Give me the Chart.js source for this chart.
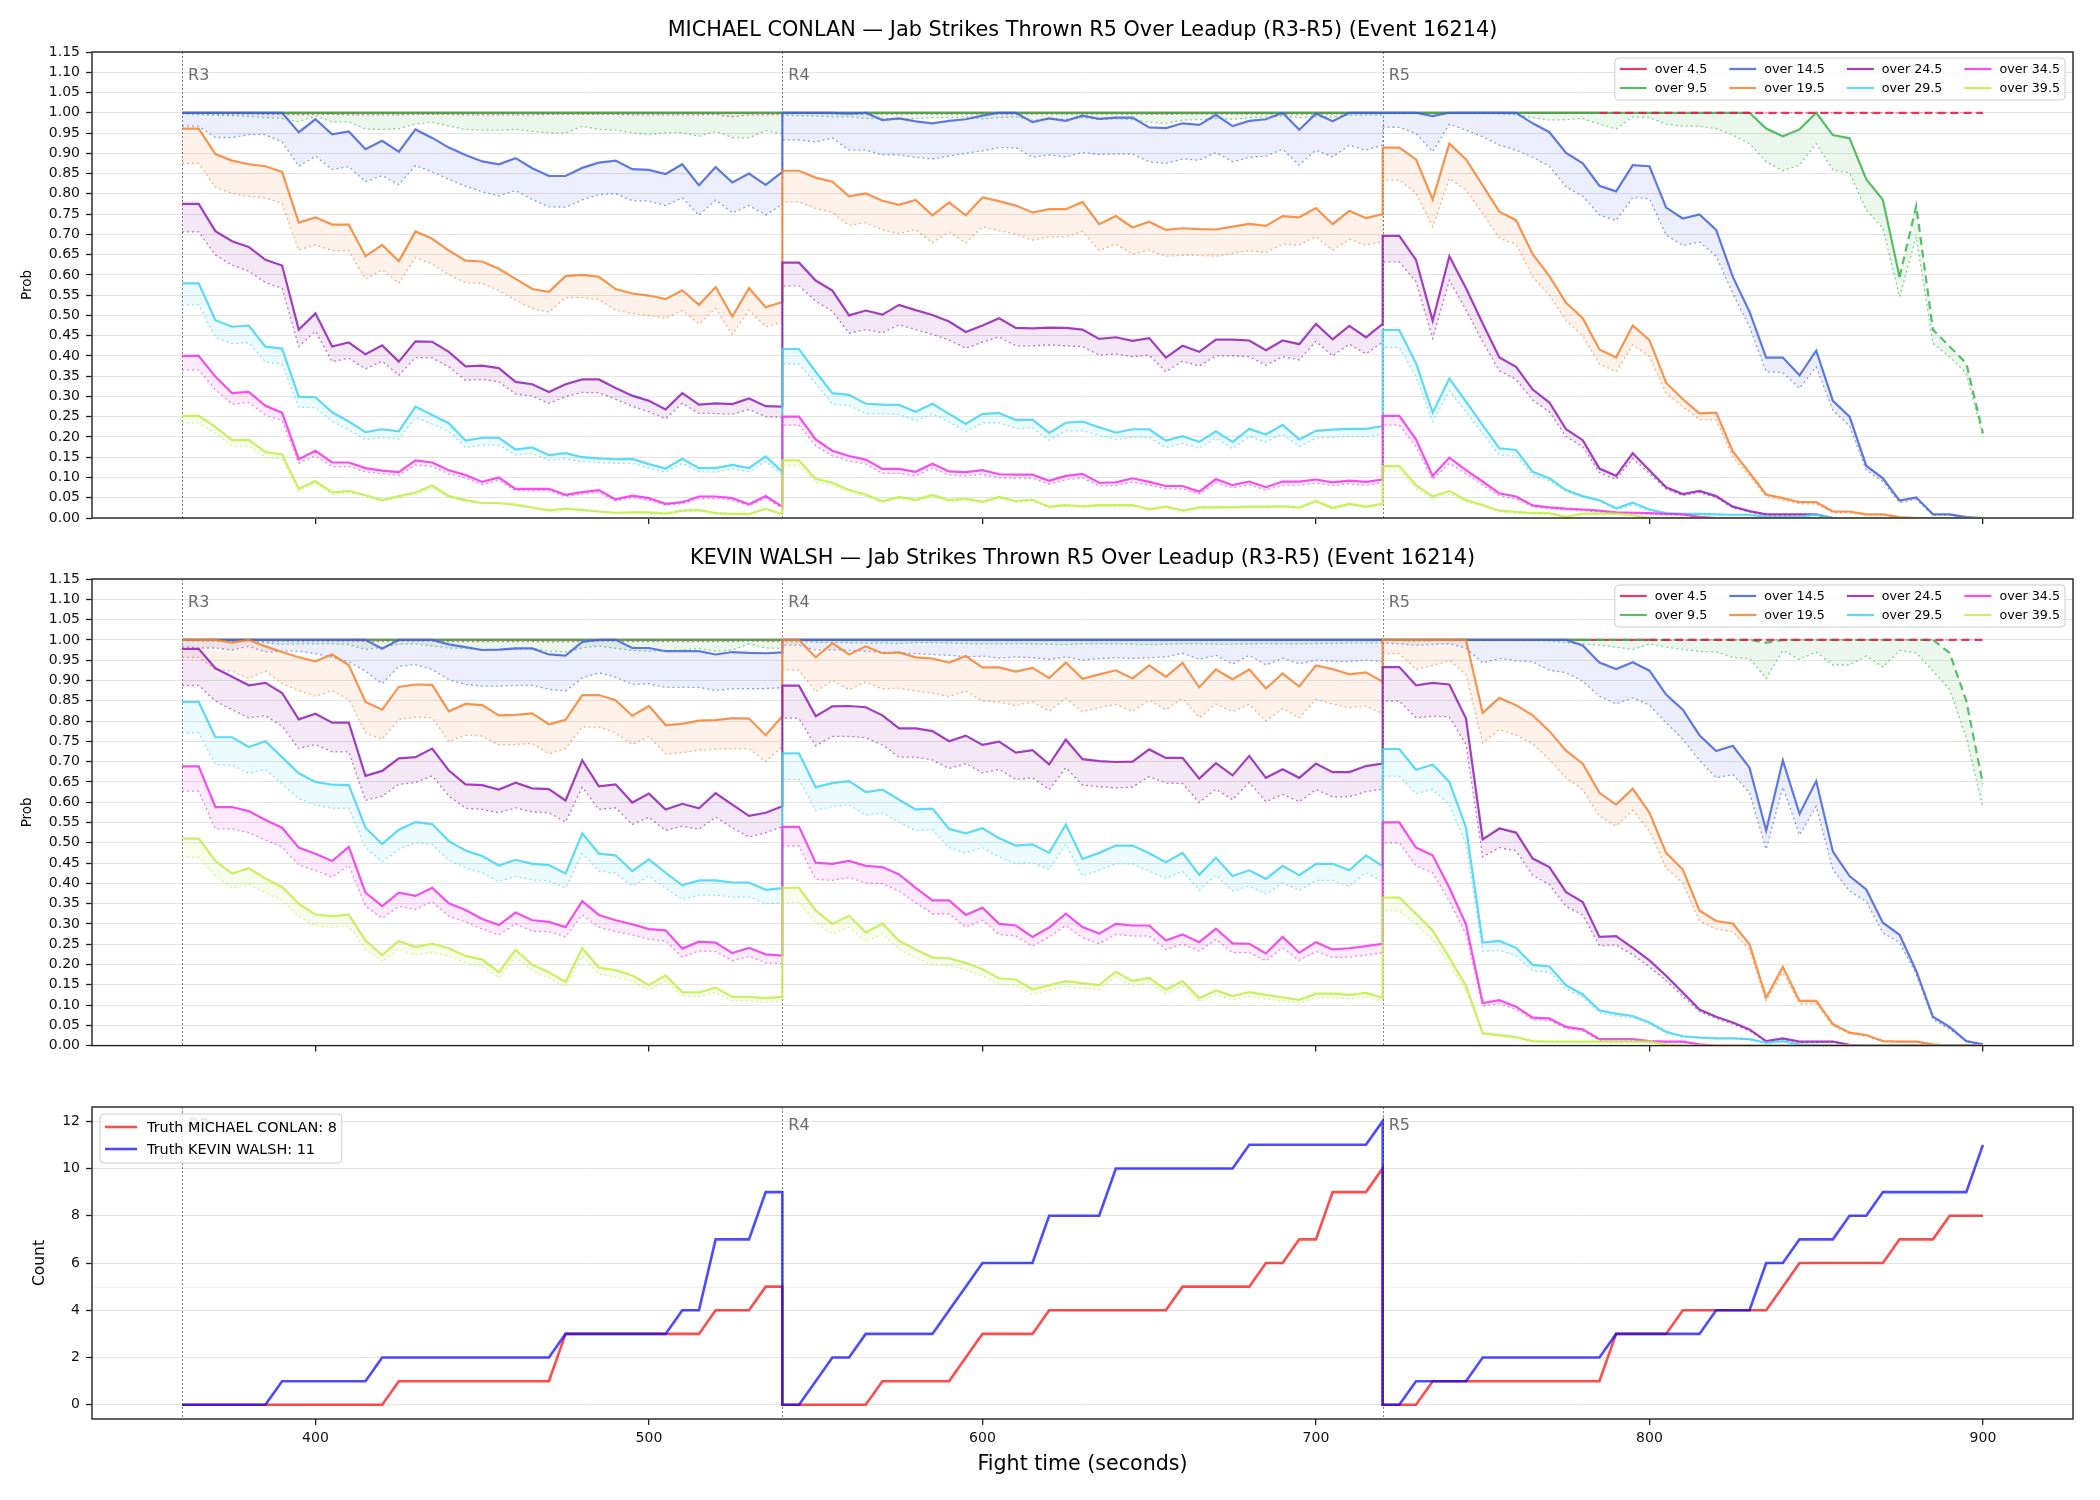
<!DOCTYPE html>
<html><head><meta charset="utf-8">
<script src="https://cdn.jsdelivr.net/npm/chart.js@4.4.1/dist/chart.umd.min.js"></script>
<style>
html,body{margin:0;padding:0;background:#fff;}
#wrap{position:relative;width:2100px;height:1500px;overflow:hidden;background:#fff;}
canvas{position:absolute;left:0;}
</style></head><body>
<div id="wrap">
<canvas id="c1" width="2100" height="540" style="top:0px;width:2100px;height:540px"></canvas>
<canvas id="c2" width="2100" height="520" style="top:540px;width:2100px;height:520px"></canvas>
<canvas id="c3" width="2100" height="440" style="top:1060px;width:2100px;height:440px"></canvas>
</div>
<script>
// ---------------- DATA ----------------
const fighterA = 'MICHAEL CONLAN';
const fighterB = 'KEVIN WALSH';
const chartTitleSuffix = ' — Jab Strikes Thrown R5 Over Leadup (R3-R5) (Event 16214)';
const lineLabels = ['over 4.5','over 9.5','over 14.5','over 19.5','over 24.5','over 29.5','over 34.5','over 39.5'];
const roundNames = ['R3','R4','R5'];
const roundStarts = [360, 540, 720];
const xTickValues = [400, 500, 600, 700, 800, 900];
const probTickValues = [0,0.05,0.1,0.15,0.2,0.25,0.3,0.35,0.4,0.45,0.5,0.55,0.6,0.65,0.7,0.75,0.8,0.85,0.9,0.95,1,1.05,1.1,1.15];
const countTickValues = [0,2,4,6,8,10,12];
const finalTruthA = 8;
const finalTruthB = 11;

const times = [
 360,365,370,375,380,385,390,395,400,405,410,415,420,425,430,435,440,445,450,455,460,465,470,475,480,485,490,495,500,505,510,515,520,525,530,535,540,
 540,545,550,555,560,565,570,575,580,585,590,595,600,605,610,615,620,625,630,635,640,645,650,655,660,665,670,675,680,685,690,695,700,705,710,715,720,
 720,725,730,735,740,745,750,755,760,765,770,775,780,785,790,795,800,805,810,815,820,825,830,835,840,845,850,855,860,865,870,875,880,885,890,895,900];

// ---- MICHAEL CONLAN (solid = line, lo = dotted lower line) ----
const conlanO45 = [
 1,1,1,1,1,1,1,1,1,1,1,1,1,1,1,1,1,1,1,1,1,1,1,1,1,1,1,1,1,1,1,1,1,1,1,1,1,
 1,1,1,1,1,1,1,1,1,1,1,1,1,1,1,1,1,1,1,1,1,1,1,1,1,1,1,1,1,1,1,1,1,1,1,1,1,
 1,1,1,1,1,1,1,1,1,1,1,1,1,1,1,1,1,1,1,1,1,1,1,1,1,1,1,1,1,1,1,1,1,1,1,1,1];
const conlanO45lo = [
 0.998,0.998,0.997,0.997,0.997,0.996,0.996,0.995,0.996,0.996,0.995,0.995,0.995,0.995,0.996,0.996,0.996,0.995,0.995,0.995,
 0.995,0.995,0.996,0.996,0.996,0.996,0.996,0.995,0.995,0.995,0.995,0.995,0.996,0.990,0.995,0.995,0.996,
 0.998,0.998,0.998,0.997,0.997,0.997,0.997,0.997,0.997,0.997,0.997,0.997,0.997,0.997,0.997,0.997,0.997,0.997,0.997,0.997,
 0.997,0.997,0.996,0.996,0.997,0.997,0.997,0.997,0.997,0.997,0.997,0.997,0.997,0.997,0.998,0.998,0.998,
 0.999,0.999,0.999,0.999,0.999,0.999,0.999,0.999,0.999,0.999,0.999,0.999,0.999,0.999,0.999,0.999,0.999,0.999,0.999,0.999,
 0.999,0.999,0.999,0.999,1,1,1,1,1,1,1,1,1,1,1,1,1];
const conlanO95 = [
 1,1,1,1,1,1,1,1,1,1,1,1,1,1,1,1,1,1,1,1,1,1,1,1,1,1,1,1,1,1,1,1,1,1,1,1,1,
 1,1,1,1,1,1,1,1,1,1,1,1,1,1,1,1,1,1,1,1,1,1,1,1,1,1,1,1,1,1,1,1,1,1,1,1,1,
 1,1,1,1,1,1,1,1,1,1,1,1,1,1,1,1,1,1,1,1,1,1,1,0.961,0.942,0.959,1,0.945,0.937,0.836,0.785,0.595,0.770,0.465,0.423,0.382,0.209];
const conlanO95lo = [
 0.998,0.995,0.994,0.993,0.991,0.988,0.986,0.978,0.992,0.977,0.978,0.960,0.959,0.961,0.972,0.977,0.967,0.959,0.957,0.957,
 0.959,0.954,0.951,0.950,0.967,0.959,0.957,0.951,0.946,0.951,0.951,0.942,0.954,0.939,0.938,0.956,0.948,
 0.994,0.993,0.992,0.990,0.990,0.986,0.986,0.984,0.986,0.988,0.988,0.990,0.985,0.988,0.990,0.982,0.984,0.984,0.988,0.984,
 0.985,0.983,0.977,0.974,0.982,0.983,0.986,0.984,0.988,0.990,0.992,0.988,0.990,0.990,0.994,0.994,0.994,
 0.998,0.998,0.998,0.997,0.998,0.998,0.998,0.997,0.995,0.988,0.982,0.983,0.986,0.972,0.960,0.990,0.988,0.972,0.967,0.967,
 0.961,0.945,0.924,0.879,0.857,0.871,0.924,0.859,0.852,0.760,0.715,0.546,0.694,0.431,0.398,0.357,0.201];
const conlanO145 = [
 1,1,1,1,1,1,1,0.952,0.984,0.947,0.954,0.910,0.931,0.904,0.959,0.938,0.914,0.896,0.880,0.873,
 0.888,0.863,0.844,0.844,0.864,0.877,0.882,0.861,0.859,0.849,0.873,0.821,0.866,0.828,0.850,0.822,0.854,
 1,1,1,1,0.998,1,0.982,0.986,0.979,0.974,0.980,0.984,0.993,1,1,0.977,0.986,0.980,0.993,0.985,
 0.988,0.988,0.964,0.962,0.974,0.970,0.995,0.967,0.980,0.984,1,0.958,0.998,0.979,1,1,1,
 1,1,1,0.992,1,1,1,1,1,0.974,0.952,0.901,0.875,0.820,0.806,0.871,0.868,0.766,0.739,0.749,
 0.711,0.595,0.509,0.396,0.396,0.352,0.413,0.289,0.250,0.129,0.098,0.043,0.051,0.009,0.009,0.002,0];
const conlanO145lo = [
 0.967,0.967,0.939,0.939,0.946,0.946,0.928,0.868,0.893,0.860,0.867,0.830,0.845,0.823,0.870,0.854,0.836,0.819,0.805,0.795,
 0.808,0.786,0.768,0.767,0.785,0.798,0.801,0.783,0.782,0.771,0.790,0.747,0.785,0.753,0.771,0.748,0.774,
 0.933,0.933,0.928,0.938,0.908,0.908,0.896,0.896,0.890,0.886,0.893,0.900,0.906,0.914,0.914,0.890,0.896,0.891,0.902,0.897,
 0.898,0.898,0.879,0.875,0.886,0.883,0.902,0.879,0.890,0.893,0.910,0.871,0.908,0.891,0.920,0.908,0.920,
 0.965,0.964,0.949,0.904,0.972,0.957,0.941,0.920,0.908,0.890,0.868,0.817,0.794,0.748,0.734,0.791,0.788,0.698,0.673,0.681,
 0.646,0.554,0.472,0.361,0.359,0.320,0.373,0.266,0.227,0.118,0.090,0.038,0.046,0.007,0.007,0.001,0];
const conlanO195 = [
 0.961,0.961,0.898,0.882,0.873,0.868,0.854,0.729,0.742,0.724,0.724,0.646,0.674,0.634,0.707,0.689,0.660,0.635,0.633,0.615,
 0.590,0.565,0.558,0.597,0.600,0.595,0.565,0.554,0.549,0.540,0.562,0.526,0.570,0.497,0.567,0.520,0.533,
 0.857,0.857,0.840,0.830,0.794,0.801,0.783,0.773,0.785,0.747,0.779,0.747,0.791,0.782,0.771,0.754,0.762,0.762,0.780,0.725,
 0.745,0.717,0.731,0.711,0.715,0.713,0.712,0.719,0.726,0.721,0.745,0.742,0.765,0.725,0.758,0.740,0.750,
 0.914,0.914,0.885,0.786,0.924,0.885,0.821,0.756,0.735,0.651,0.597,0.531,0.493,0.416,0.396,0.475,0.439,0.334,0.293,0.258,
 0.260,0.164,0.112,0.058,0.049,0.039,0.039,0.016,0.016,0.009,0.009,0.002,0,0,0,0,0];
const conlanO195lo = [
 0.875,0.875,0.816,0.801,0.794,0.790,0.776,0.661,0.674,0.660,0.660,0.589,0.613,0.579,0.643,0.627,0.600,0.581,0.579,0.561,
 0.538,0.517,0.508,0.544,0.544,0.539,0.513,0.505,0.500,0.493,0.512,0.479,0.517,0.453,0.513,0.472,0.484,
 0.780,0.780,0.764,0.754,0.722,0.729,0.711,0.702,0.712,0.679,0.706,0.679,0.719,0.709,0.701,0.686,0.694,0.694,0.707,0.660,
 0.676,0.651,0.661,0.646,0.648,0.648,0.646,0.653,0.660,0.655,0.676,0.674,0.694,0.661,0.688,0.674,0.682,
 0.834,0.834,0.801,0.719,0.838,0.809,0.752,0.690,0.676,0.595,0.550,0.488,0.449,0.380,0.361,0.427,0.398,0.308,0.275,0.243,
 0.242,0.151,0.104,0.053,0.044,0.035,0.035,0.013,0.013,0.007,0.007,0.001,0,0,0,0,0];
const conlanO245 = [
 0.775,0.775,0.708,0.683,0.669,0.637,0.623,0.465,0.505,0.423,0.433,0.404,0.426,0.386,0.436,0.435,0.410,0.374,0.376,0.370,
 0.336,0.330,0.311,0.330,0.342,0.342,0.321,0.302,0.289,0.268,0.308,0.280,0.283,0.281,0.295,0.276,0.275,
 0.630,0.630,0.586,0.561,0.500,0.512,0.502,0.526,0.513,0.501,0.485,0.459,0.475,0.493,0.469,0.468,0.470,0.469,0.465,0.442,
 0.446,0.437,0.444,0.396,0.425,0.410,0.440,0.440,0.438,0.414,0.438,0.429,0.479,0.441,0.474,0.446,0.479,
 0.696,0.696,0.637,0.487,0.646,0.567,0.480,0.396,0.373,0.317,0.285,0.219,0.192,0.122,0.104,0.160,0.118,0.076,0.059,0.067,
 0.054,0.028,0.017,0.009,0.009,0.009,0.009,0,0,0,0,0,0,0,0,0,0];
const conlanO245lo = [
 0.706,0.706,0.649,0.624,0.609,0.581,0.567,0.423,0.461,0.386,0.394,0.368,0.387,0.352,0.396,0.395,0.373,0.340,0.342,0.336,
 0.306,0.301,0.283,0.299,0.310,0.309,0.293,0.276,0.262,0.245,0.283,0.258,0.258,0.256,0.268,0.250,0.248,
 0.573,0.573,0.535,0.510,0.456,0.465,0.457,0.477,0.465,0.453,0.439,0.419,0.434,0.447,0.425,0.425,0.427,0.425,0.423,0.402,
 0.405,0.398,0.402,0.361,0.387,0.375,0.400,0.400,0.398,0.377,0.398,0.390,0.436,0.400,0.429,0.405,0.434,
 0.632,0.632,0.583,0.443,0.587,0.513,0.435,0.363,0.342,0.291,0.262,0.201,0.176,0.112,0.095,0.147,0.110,0.071,0.055,0.063,
 0.050,0.025,0.015,0.007,0.007,0.007,0.007,0,0,0,0,0,0,0,0,0,0];
const conlanO295 = [
 0.579,0.579,0.488,0.472,0.475,0.423,0.418,0.299,0.298,0.261,0.238,0.212,0.219,0.214,0.275,0.254,0.234,0.191,0.198,0.198,
 0.169,0.174,0.155,0.160,0.150,0.147,0.145,0.146,0.133,0.122,0.146,0.123,0.123,0.131,0.123,0.152,0.114,
 0.417,0.417,0.361,0.308,0.304,0.282,0.280,0.279,0.262,0.282,0.257,0.232,0.257,0.259,0.242,0.243,0.210,0.235,0.238,0.224,
 0.211,0.219,0.219,0.191,0.202,0.188,0.214,0.188,0.220,0.206,0.230,0.194,0.215,0.218,0.220,0.220,0.227,
 0.464,0.464,0.382,0.260,0.344,0.287,0.229,0.172,0.168,0.114,0.098,0.069,0.054,0.044,0.024,0.038,0.021,0.012,0.010,0.010,
 0.009,0.008,0.008,0.003,0.002,0.003,0.009,0,0,0,0,0,0,0,0,0,0];
const conlanO295lo = [
 0.526,0.526,0.446,0.430,0.433,0.385,0.380,0.273,0.272,0.239,0.217,0.194,0.198,0.195,0.248,0.232,0.214,0.174,0.180,0.180,
 0.155,0.160,0.143,0.146,0.139,0.137,0.135,0.135,0.123,0.113,0.135,0.114,0.114,0.121,0.114,0.140,0.106,
 0.380,0.380,0.332,0.281,0.278,0.258,0.257,0.255,0.240,0.257,0.237,0.213,0.235,0.235,0.221,0.222,0.192,0.215,0.215,0.204,
 0.194,0.199,0.199,0.174,0.184,0.172,0.197,0.171,0.201,0.188,0.207,0.176,0.197,0.199,0.201,0.201,0.207,
 0.421,0.421,0.349,0.238,0.314,0.262,0.209,0.155,0.153,0.106,0.092,0.065,0.051,0.042,0.020,0.032,0.018,0.010,0.008,0.008,
 0.007,0.007,0.007,0.003,0.002,0.003,0.007,0,0,0,0,0,0,0,0,0,0];
const conlanO345 = [
 0.400,0.400,0.349,0.308,0.311,0.277,0.260,0.145,0.166,0.137,0.137,0.123,0.117,0.113,0.142,0.137,0.118,0.106,0.089,0.100,
 0.072,0.072,0.072,0.057,0.064,0.069,0.046,0.055,0.049,0.035,0.039,0.053,0.053,0.049,0.034,0.054,0.028,
 0.250,0.250,0.194,0.166,0.153,0.144,0.121,0.121,0.114,0.134,0.115,0.113,0.118,0.108,0.107,0.107,0.092,0.104,0.109,0.087,
 0.088,0.098,0.089,0.079,0.079,0.065,0.096,0.081,0.090,0.076,0.090,0.090,0.095,0.088,0.092,0.089,0.095,
 0.252,0.252,0.194,0.104,0.149,0.118,0.090,0.061,0.053,0.031,0.026,0.023,0.021,0.018,0.014,0.013,0.012,0.010,0.009,0.003,
 0,0,0,0,0,0,0,0,0,0,0,0,0,0,0,0,0];
const conlanO345lo = [
 0.365,0.365,0.317,0.281,0.285,0.254,0.240,0.135,0.153,0.127,0.127,0.114,0.109,0.105,0.131,0.127,0.109,0.099,0.082,0.093,
 0.067,0.067,0.067,0.053,0.059,0.063,0.042,0.050,0.044,0.032,0.035,0.048,0.048,0.044,0.030,0.049,0.024,
 0.229,0.229,0.178,0.153,0.141,0.133,0.110,0.110,0.104,0.123,0.106,0.104,0.107,0.099,0.098,0.098,0.084,0.094,0.099,0.079,
 0.080,0.089,0.081,0.072,0.072,0.059,0.087,0.074,0.082,0.069,0.081,0.081,0.086,0.080,0.084,0.081,0.087,
 0.229,0.229,0.176,0.095,0.135,0.109,0.081,0.055,0.047,0.028,0.023,0.020,0.018,0.015,0.012,0.011,0.009,0.008,0.007,0.002,
 0,0,0,0,0,0,0,0,0,0,0,0,0,0,0,0,0];
const conlanO395 = [
 0.252,0.252,0.225,0.192,0.193,0.163,0.157,0.072,0.091,0.063,0.067,0.056,0.044,0.054,0.063,0.080,0.054,0.044,0.037,0.037,
 0.033,0.026,0.019,0.023,0.020,0.016,0.013,0.014,0.014,0.011,0.018,0.020,0.012,0.010,0.010,0.023,0.010,
 0.142,0.142,0.097,0.087,0.069,0.058,0.041,0.052,0.045,0.057,0.044,0.048,0.040,0.052,0.042,0.045,0.028,0.032,0.029,0.032,
 0.032,0.032,0.022,0.028,0.019,0.026,0.027,0.027,0.028,0.028,0.029,0.026,0.042,0.025,0.035,0.028,0.035,
 0.128,0.128,0.081,0.053,0.067,0.044,0.032,0.018,0.015,0.012,0.012,0.003,0.011,0.011,0.011,0.007,0,0,0,0,
 0,0,0,0,0,0,0,0,0,0,0,0,0,0,0,0,0];
const conlanO395lo = [
 0.234,0.234,0.209,0.178,0.178,0.150,0.145,0.067,0.086,0.058,0.063,0.053,0.041,0.050,0.058,0.074,0.051,0.041,0.035,0.035,
 0.030,0.024,0.017,0.021,0.018,0.015,0.012,0.012,0.012,0.009,0.016,0.017,0.010,0.008,0.008,0.020,0.008,
 0.130,0.130,0.088,0.080,0.063,0.053,0.038,0.048,0.042,0.053,0.040,0.044,0.038,0.048,0.039,0.042,0.025,0.029,0.026,0.029,
 0.029,0.029,0.020,0.025,0.016,0.023,0.024,0.024,0.025,0.025,0.026,0.023,0.038,0.021,0.032,0.025,0.031,
 0.117,0.117,0.072,0.046,0.059,0.039,0.028,0.015,0.012,0.010,0.009,0.002,0.008,0.009,0.009,0.006,0,0,0,0,
 0,0,0,0,0,0,0,0,0,0,0,0,0,0,0,0,0];

// ---- KEVIN WALSH ----
const walshO45 = [
 1,1,1,1,1,1,1,1,1,1,1,1,1,1,1,1,1,1,1,1,1,1,1,1,1,1,1,1,1,1,1,1,1,1,1,1,1,
 1,1,1,1,1,1,1,1,1,1,1,1,1,1,1,1,1,1,1,1,1,1,1,1,1,1,1,1,1,1,1,1,1,1,1,1,1,
 1,1,1,1,1,1,1,1,1,1,1,1,1,1,1,1,1,1,1,1,1,1,1,1,1,1,1,1,1,1,1,1,1,1,1,1,1];
const walshO45lo = [
 0.998,0.998,0.998,0.997,0.998,0.997,0.997,0.997,0.997,0.997,0.997,0.996,0.996,0.997,0.997,0.997,0.996,0.996,0.996,0.996,
 0.996,0.996,0.995,0.995,0.997,0.997,0.997,0.996,0.996,0.996,0.996,0.996,0.996,0.996,0.997,0.996,0.996,
 0.999,0.999,0.998,0.998,0.998,0.998,0.998,0.998,0.998,0.998,0.998,0.998,0.998,0.998,0.998,0.998,0.998,0.998,0.998,0.998,
 0.998,0.998,0.998,0.998,0.998,0.998,0.998,0.998,0.998,0.998,0.998,0.998,0.998,0.998,0.998,0.998,0.998,
 0.999,0.999,0.999,0.999,0.999,0.999,0.999,0.999,0.999,0.999,0.999,0.999,0.999,0.999,0.999,0.999,0.999,0.999,0.999,0.999,
 1,1,1,1,1,1,1,1,1,1,1,1,1,1,1,1,1];
const walshO95 = [
 1,1,1,1,1,1,1,1,1,1,1,1,1,1,1,1,1,1,1,1,1,1,1,1,1,1,1,1,1,1,1,1,1,1,1,1,1,
 1,1,1,1,1,1,1,1,1,1,1,1,1,1,1,1,1,1,1,1,1,1,1,1,1,1,1,1,1,1,1,1,1,1,1,1,1,
 1,1,1,1,1,1,1,1,1,1,1,1,1,1,1,1,1,1,1,1,1,1,1,0.993,1,1,1,1,1,1,1,1,1,1,0.968,0.850,0.645];
const walshO95lo = [
 0.998,0.997,0.997,0.996,0.998,0.993,0.989,0.990,0.990,0.990,0.989,0.976,0.982,0.989,0.990,0.985,0.980,0.979,0.976,0.976,
 0.976,0.979,0.972,0.970,0.980,0.985,0.979,0.974,0.972,0.974,0.975,0.979,0.972,0.975,0.990,0.980,0.979,
 0.995,0.995,0.994,0.993,0.993,0.992,0.992,0.991,0.993,0.993,0.992,0.991,0.990,0.990,0.991,0.990,0.989,0.988,0.990,0.991,
 0.990,0.989,0.988,0.989,0.990,0.990,0.989,0.989,0.990,0.991,0.990,0.990,0.991,0.991,0.992,0.992,0.992,
 0.998,0.998,0.997,0.998,0.998,0.998,0.998,0.998,0.998,0.998,0.997,0.993,0.990,0.987,0.982,0.976,0.990,0.982,0.976,0.972,
 0.970,0.957,0.954,0.905,0.974,0.952,0.970,0.938,0.938,0.960,0.933,0.974,0.968,0.923,0.878,0.759,0.586];
const walshO145 = [
 1,1,1,1,1,1,1,1,1,1,1,1,0.978,1,1,1,0.989,0.982,0.975,0.976,
 0.979,0.979,0.964,0.961,0.995,1,1,0.980,0.980,0.972,0.972,0.972,0.964,0.970,0.968,0.967,0.969,
 1,1,1,1,1,1,1,1,1,1,1,1,1,1,1,1,1,1,1,1,1,1,1,1,1,1,1,1,1,1,1,1,1,1,1,1,1,
 1,1,1,1,1,1,1,1,1,1,1,1,0.986,0.944,0.928,0.945,0.924,0.865,0.828,0.765,
 0.726,0.739,0.685,0.530,0.703,0.571,0.652,0.478,0.418,0.385,0.303,0.273,0.184,0.071,0.046,0.011,0.003];
const walshO145lo = [
 0.984,0.980,0.980,0.975,0.984,0.970,0.972,0.972,0.966,0.957,0.946,0.923,0.892,0.935,0.939,0.927,0.902,0.890,0.886,0.886,
 0.888,0.888,0.878,0.874,0.906,0.919,0.908,0.890,0.892,0.883,0.883,0.883,0.875,0.880,0.880,0.880,0.882,
 0.987,0.987,0.975,0.976,0.974,0.972,0.969,0.968,0.966,0.964,0.962,0.958,0.960,0.955,0.958,0.956,0.952,0.958,0.950,0.954,
 0.956,0.954,0.956,0.958,0.967,0.952,0.962,0.940,0.962,0.938,0.955,0.941,0.950,0.947,0.947,0.950,0.946,
 0.993,0.990,0.987,0.989,0.990,0.980,0.943,0.954,0.949,0.946,0.925,0.919,0.898,0.861,0.842,0.857,0.839,0.796,0.755,0.703,
 0.660,0.668,0.623,0.484,0.637,0.519,0.590,0.434,0.381,0.355,0.278,0.254,0.176,0.065,0.040,0.011,0.002];
const walshO195 = [
 1,1,1,0.993,1,0.984,0.970,0.957,0.947,0.964,0.938,0.847,0.828,0.884,0.890,0.889,0.824,0.842,0.839,0.814,
 0.815,0.819,0.792,0.803,0.864,0.864,0.851,0.813,0.837,0.790,0.793,0.801,0.802,0.807,0.806,0.765,0.812,
 1,1,0.957,0.992,0.964,0.984,0.967,0.969,0.957,0.954,0.944,0.960,0.932,0.932,0.922,0.931,0.906,0.944,0.904,0.915,
 0.925,0.905,0.937,0.909,0.943,0.883,0.927,0.903,0.927,0.880,0.917,0.885,0.937,0.928,0.915,0.920,0.897,
 1,1,1,1,1,1,0.820,0.857,0.839,0.814,0.775,0.727,0.695,0.623,0.594,0.633,0.574,0.475,0.434,0.333,
 0.307,0.301,0.250,0.118,0.194,0.110,0.110,0.053,0.032,0.026,0.011,0.010,0.010,0.003,0,0,0];
const walshO195lo = [
 0.957,0.957,0.927,0.923,0.905,0.923,0.892,0.875,0.861,0.875,0.853,0.771,0.755,0.804,0.810,0.808,0.749,0.765,0.763,0.741,
 0.742,0.745,0.719,0.732,0.785,0.785,0.771,0.742,0.762,0.719,0.722,0.728,0.731,0.732,0.732,0.700,0.738,
 0.927,0.925,0.872,0.900,0.877,0.896,0.879,0.881,0.874,0.869,0.860,0.874,0.849,0.847,0.838,0.847,0.824,0.856,0.823,0.833,
 0.841,0.824,0.851,0.828,0.856,0.808,0.842,0.823,0.841,0.800,0.831,0.808,0.853,0.842,0.833,0.837,0.818,
 0.966,0.966,0.927,0.937,0.949,0.915,0.746,0.779,0.765,0.744,0.705,0.660,0.631,0.566,0.541,0.580,0.529,0.438,0.401,0.307,
 0.287,0.281,0.235,0.110,0.180,0.103,0.103,0.048,0.030,0.024,0.010,0.009,0.009,0.002,0,0,0];
const walshO245 = [
 0.978,0.978,0.930,0.909,0.888,0.894,0.869,0.804,0.818,0.796,0.796,0.665,0.677,0.708,0.711,0.732,0.678,0.644,0.642,0.631,
 0.648,0.634,0.632,0.604,0.703,0.639,0.644,0.599,0.621,0.582,0.596,0.585,0.622,0.594,0.566,0.574,0.590,
 0.887,0.887,0.812,0.836,0.837,0.834,0.814,0.782,0.782,0.775,0.750,0.764,0.741,0.749,0.722,0.728,0.693,0.754,0.706,0.701,
 0.699,0.700,0.730,0.709,0.709,0.658,0.696,0.666,0.714,0.660,0.681,0.660,0.695,0.674,0.674,0.689,0.695,
 0.933,0.933,0.888,0.894,0.890,0.806,0.508,0.535,0.525,0.461,0.440,0.378,0.354,0.268,0.270,0.241,0.210,0.172,0.131,0.089,
 0.071,0.057,0.040,0.011,0.018,0.010,0.010,0.010,0.002,0,0,0,0,0,0,0,0];
const walshO245lo = [
 0.888,0.888,0.849,0.828,0.808,0.813,0.787,0.732,0.742,0.724,0.724,0.604,0.615,0.644,0.648,0.665,0.615,0.585,0.582,0.574,
 0.586,0.576,0.574,0.551,0.637,0.582,0.586,0.545,0.563,0.530,0.541,0.533,0.563,0.537,0.514,0.525,0.539,
 0.808,0.806,0.739,0.762,0.762,0.759,0.741,0.711,0.711,0.704,0.683,0.695,0.672,0.681,0.656,0.660,0.631,0.685,0.642,0.638,
 0.635,0.637,0.663,0.647,0.646,0.599,0.632,0.606,0.649,0.601,0.619,0.601,0.631,0.613,0.613,0.626,0.632,
 0.849,0.849,0.808,0.812,0.810,0.742,0.465,0.488,0.480,0.420,0.397,0.343,0.322,0.246,0.248,0.224,0.194,0.160,0.122,0.084,
 0.067,0.053,0.036,0.009,0.015,0.008,0.008,0.008,0.001,0,0,0,0,0,0,0,0];
const walshO295 = [
 0.847,0.847,0.760,0.760,0.736,0.750,0.711,0.671,0.650,0.643,0.642,0.537,0.497,0.532,0.551,0.546,0.504,0.481,0.467,0.444,
 0.458,0.448,0.445,0.424,0.523,0.473,0.469,0.430,0.459,0.426,0.395,0.407,0.407,0.402,0.402,0.384,0.388,
 0.720,0.720,0.637,0.647,0.652,0.625,0.631,0.606,0.582,0.584,0.534,0.523,0.536,0.511,0.493,0.496,0.475,0.545,0.460,0.475,
 0.493,0.493,0.474,0.452,0.475,0.421,0.463,0.418,0.432,0.411,0.443,0.420,0.448,0.448,0.432,0.469,0.442,
 0.731,0.731,0.680,0.693,0.650,0.537,0.254,0.258,0.241,0.199,0.195,0.149,0.126,0.087,0.079,0.073,0.057,0.034,0.023,0.020,
 0.018,0.018,0.016,0.007,0.011,0.003,0.002,0,0,0,0,0,0,0,0,0,0];
const walshO295lo = [
 0.771,0.771,0.693,0.691,0.671,0.681,0.645,0.609,0.593,0.585,0.585,0.489,0.453,0.484,0.500,0.496,0.456,0.438,0.426,0.404,
 0.417,0.408,0.406,0.388,0.473,0.430,0.425,0.393,0.418,0.388,0.360,0.371,0.371,0.366,0.366,0.350,0.352,
 0.656,0.656,0.580,0.589,0.594,0.568,0.574,0.551,0.530,0.532,0.488,0.475,0.488,0.465,0.448,0.451,0.434,0.496,0.418,0.432,
 0.448,0.448,0.430,0.412,0.430,0.383,0.420,0.381,0.393,0.374,0.401,0.383,0.407,0.407,0.393,0.426,0.404,
 0.664,0.664,0.621,0.631,0.594,0.496,0.232,0.235,0.221,0.184,0.181,0.139,0.120,0.081,0.073,0.069,0.053,0.031,0.021,0.018,
 0.017,0.017,0.014,0.006,0.010,0.002,0.001,0,0,0,0,0,0,0,0,0,0];
const walshO345 = [
 0.688,0.688,0.588,0.588,0.578,0.556,0.537,0.488,0.473,0.455,0.490,0.377,0.344,0.377,0.369,0.389,0.351,0.334,0.312,0.297,
 0.328,0.309,0.305,0.292,0.356,0.322,0.309,0.299,0.287,0.284,0.239,0.256,0.254,0.228,0.241,0.225,0.222,
 0.539,0.539,0.451,0.448,0.455,0.443,0.440,0.422,0.389,0.358,0.358,0.322,0.340,0.300,0.296,0.268,0.291,0.325,0.292,0.276,
 0.300,0.296,0.296,0.259,0.274,0.255,0.288,0.252,0.251,0.227,0.268,0.229,0.255,0.237,0.240,0.245,0.251,
 0.550,0.550,0.488,0.469,0.389,0.299,0.105,0.112,0.096,0.069,0.067,0.046,0.040,0.016,0.016,0.016,0.011,0.010,0.010,0.003,
 0,0,0,0,0,0,0,0,0,0,0,0,0,0,0,0,0];
const walshO345lo = [
 0.627,0.627,0.534,0.534,0.525,0.507,0.489,0.445,0.432,0.415,0.445,0.344,0.314,0.343,0.336,0.355,0.319,0.305,0.287,0.273,
 0.300,0.282,0.281,0.268,0.322,0.292,0.281,0.273,0.262,0.258,0.218,0.233,0.232,0.209,0.220,0.204,0.202,
 0.492,0.492,0.410,0.407,0.414,0.401,0.399,0.381,0.352,0.325,0.325,0.292,0.309,0.274,0.270,0.245,0.268,0.296,0.266,0.251,
 0.274,0.270,0.270,0.237,0.250,0.233,0.262,0.229,0.229,0.209,0.241,0.210,0.232,0.217,0.218,0.223,0.229,
 0.500,0.500,0.443,0.426,0.356,0.274,0.098,0.103,0.089,0.064,0.062,0.042,0.036,0.013,0.014,0.013,0.009,0.008,0.008,0.002,
 0,0,0,0,0,0,0,0,0,0,0,0,0,0,0,0,0];
const walshO395 = [
 0.510,0.510,0.455,0.424,0.437,0.412,0.391,0.350,0.323,0.319,0.323,0.259,0.223,0.258,0.243,0.251,0.240,0.221,0.212,0.181,
 0.236,0.199,0.181,0.157,0.240,0.192,0.186,0.173,0.149,0.173,0.132,0.131,0.143,0.120,0.120,0.117,0.120,
 0.389,0.389,0.333,0.300,0.320,0.279,0.301,0.258,0.237,0.217,0.215,0.204,0.188,0.166,0.163,0.139,0.149,0.159,0.154,0.149,
 0.182,0.159,0.167,0.138,0.159,0.117,0.136,0.122,0.132,0.125,0.119,0.113,0.128,0.128,0.125,0.130,0.118,
 0.365,0.365,0.325,0.284,0.217,0.147,0.031,0.026,0.021,0.011,0.010,0.010,0.010,0.010,0.010,0.010,0.010,0.003,0,0,
 0,0,0,0,0,0,0,0,0,0,0,0,0,0,0,0,0];
const walshO395lo = [
 0.465,0.465,0.418,0.388,0.397,0.377,0.358,0.319,0.295,0.292,0.295,0.237,0.207,0.237,0.223,0.229,0.221,0.204,0.195,0.167,
 0.218,0.184,0.167,0.145,0.221,0.176,0.169,0.159,0.136,0.159,0.122,0.121,0.131,0.110,0.110,0.107,0.110,
 0.353,0.353,0.303,0.276,0.292,0.256,0.276,0.237,0.217,0.199,0.197,0.187,0.172,0.151,0.149,0.126,0.136,0.146,0.141,0.138,
 0.169,0.147,0.154,0.128,0.147,0.108,0.126,0.113,0.122,0.115,0.110,0.105,0.118,0.118,0.115,0.120,0.108,
 0.332,0.332,0.299,0.262,0.200,0.135,0.028,0.023,0.018,0.009,0.008,0.008,0.008,0.008,0.008,0.008,0.008,0.002,0,0,
 0,0,0,0,0,0,0,0,0,0,0,0,0,0,0,0,0];

// time from which a line is drawn dashed (null = never)
const conlanDashFrom = [785, 875, null, null, null, null, null, null];
const walshDashFrom = [800, 780, null, null, null, null, null, null];

// ---- truth counts (within-round cumulative) ----
const truthConlan = [
 0,0,0,0,0,0,0,0,0,0,0,0,0,1,1,1,1,1,1,1,1,1,1,3,3,3,3,3,3,3,3,3,4,4,4,5,5,
 0,0,0,0,0,0,1,1,1,1,1,2,3,3,3,3,4,4,4,4,4,4,4,4,5,5,5,5,5,6,6,7,7,9,9,9,10,
 0,0,0,1,1,1,1,1,1,1,1,1,1,1,3,3,3,3,4,4,4,4,4,4,5,6,6,6,6,6,6,7,7,7,8,8,8];
const truthWalsh = [
 0,0,0,0,0,0,1,1,1,1,1,1,2,2,2,2,2,2,2,2,2,2,2,3,3,3,3,3,3,3,4,4,7,7,7,9,9,
 0,0,1,2,2,3,3,3,3,3,4,5,6,6,6,6,8,8,8,8,10,10,10,10,10,10,10,10,11,11,11,11,11,11,11,11,12,
 0,0,1,1,1,1,2,2,2,2,2,2,2,2,3,3,3,3,3,3,4,4,4,6,6,7,7,7,8,8,9,9,9,9,9,9,11];
const countRefLine = 5;

// ---------------- RENDERING ----------------
const conlanSolid = [conlanO45,conlanO95,conlanO145,conlanO195,conlanO245,conlanO295,conlanO345,conlanO395];
const conlanLow = [conlanO45lo,conlanO95lo,conlanO145lo,conlanO195lo,conlanO245lo,conlanO295lo,conlanO345lo,conlanO395lo];
const walshSolid = [walshO45,walshO95,walshO145,walshO195,walshO245,walshO295,walshO345,walshO395];
const walshLow = [walshO45lo,walshO95lo,walshO145lo,walshO195lo,walshO245lo,walshO295lo,walshO345lo,walshO395lo];
[...conlanSolid,...conlanLow,...walshSolid,...walshLow,truthConlan,truthWalsh].forEach((a,i)=>{
  if (a.length !== times.length) throw new Error('array '+i+' has length '+a.length);
});

const FONT = "'DejaVu Sans', sans-serif";
Chart.defaults.font.family = FONT;
const palette = ['#e6194b','#3cb44b','#4363d8','#f58231','#911eb4','#42d4f4','#f032e6','#bfef45'];
function rgba(hex, a){const n=parseInt(hex.slice(1),16);return `rgba(${(n>>16)&255},${(n>>8)&255},${n&255},${a})`;}
function toXY(arr){return arr.map((v,i)=>({x:times[i],y:v}));}

function probDatasets(solids, lows, dashFrom){
  const ds=[];
  solids.forEach((s,k)=>{
    const col=palette[k];
    const lowIdx=ds.length;
    ds.push({label:lineLabels[k]+' (lower)',data:toXY(lows[k]),borderColor:rgba(col,0.6),borderWidth:1.3,
      borderDash:[2,3],pointRadius:0,fill:false,order:1000-10*k});
    const df=dashFrom[k];
    const d={label:lineLabels[k],data:toXY(s),borderColor:rgba(col,0.85),borderWidth:2.2,pointRadius:0,
      fill:{target:lowIdx},backgroundColor:rgba(col,0.1),order:1000-10*k-1};
    if(df!=null){d.segment={borderColor:c=>c.p0.parsed.x>=df?'rgba(0,0,0,0)':undefined};}
    ds.push(d);
  });
  solids.forEach((s,k)=>{
    const df=dashFrom[k]; if(df==null) return;
    const pts=toXY(s).filter((p,i)=>i>=74 && p.x>=df);
    ds.push({label:lineLabels[k]+' (dashed)',data:pts,borderColor:rgba(palette[k],0.85),borderWidth:2.2,
      borderDash:[8,5],pointRadius:0,fill:false,order:-20+k});
  });
  return ds;
}

const decor = {
  id:'decor',
  beforeDatasetsDraw(chart,args,o){
    const {ctx,chartArea:ca,scales:{x}}=chart;
    ctx.save();
    ctx.strokeStyle='rgba(90,90,90,0.75)';ctx.lineWidth=1;ctx.setLineDash([2,2]);
    roundStarts.forEach(t=>{const px=Math.round(x.getPixelForValue(t))+0.5;
      ctx.beginPath();ctx.moveTo(px,ca.top);ctx.lineTo(px,ca.bottom);ctx.stroke();});
    if(o.refLine!=null){const py=Math.round(chart.scales.y.getPixelForValue(o.refLine))+0.5;
      ctx.setLineDash([]);ctx.strokeStyle='#efefef';ctx.beginPath();ctx.moveTo(ca.left,py);ctx.lineTo(ca.right,py);ctx.stroke();}
    ctx.restore();
  },
  afterDraw(chart,args,o){
    const {ctx,chartArea:ca,scales:{x}}=chart;
    ctx.save();
    ctx.fillStyle='#6b6b6b';ctx.font=`16px ${FONT}`;ctx.textBaseline='alphabetic';ctx.textAlign='left';
    roundStarts.forEach((t,i)=>{ctx.fillText(roundNames[i],x.getPixelForValue(t)+6,ca.top+o.roundDy);});
    ctx.strokeStyle='#222';ctx.lineWidth=1.4;ctx.setLineDash([]);
    ctx.strokeRect(ca.left,ca.top,ca.right-ca.left,ca.bottom-ca.top);
    if(o.title){ctx.fillStyle='#000';ctx.font=`20.8px ${FONT}`;ctx.textAlign='center';ctx.textBaseline='middle';
      ctx.fillText(o.title,(ca.left+ca.right)/2,o.titleY);}
    if(o.ylabel){ctx.save();ctx.translate(o.ylabelX,(ca.top+ca.bottom)/2);ctx.rotate(-Math.PI/2);
      ctx.fillStyle='#000';ctx.font=`${o.ylabelSize}px ${FONT}`;ctx.textAlign='center';ctx.textBaseline='middle';
      ctx.fillText(o.ylabel,0,0);ctx.restore();}
    if(o.xlabel){ctx.fillStyle='#000';ctx.font=`20.6px ${FONT}`;ctx.textAlign='center';ctx.textBaseline='middle';
      ctx.fillText(o.xlabel,(ca.left+ca.right)/2,o.xlabelY);}
    if(o.legend){drawLegend(ctx,ca,o.legend);}
    ctx.restore();
  }
};

function roundRectPath(ctx,x,y,w,h,r){ctx.beginPath();ctx.moveTo(x+r,y);ctx.lineTo(x+w-r,y);ctx.quadraticCurveTo(x+w,y,x+w,y+r);
  ctx.lineTo(x+w,y+h-r);ctx.quadraticCurveTo(x+w,y+h,x+w-r,y+h);ctx.lineTo(x+r,y+h);ctx.quadraticCurveTo(x,y+h,x,y+h-r);
  ctx.lineTo(x,y+r);ctx.quadraticCurveTo(x,y,x+r,y);ctx.closePath();}

function drawLegend(ctx,ca,L){
  ctx.font=`${L.fontSize}px ${FONT}`;
  const cols=L.columns;
  const colW=cols.map(c=>Math.max(...c.map(it=>ctx.measureText(it.text).width)));
  let w=L.pad*2+colW.reduce((a,b)=>a+b,0)+cols.length*(L.handle+L.handlePad)+(cols.length-1)*L.colSpace;
  const h=L.height;
  const bx=L.anchor==='right'?ca.right-L.dx-w:ca.left+L.dx;
  const by=ca.top+L.dy;
  roundRectPath(ctx,bx,by,w,h,4);
  ctx.fillStyle='rgba(255,255,255,0.8)';ctx.fill();
  ctx.strokeStyle='#cccccc';ctx.lineWidth=1;ctx.stroke();
  let cx=bx+L.pad;
  cols.forEach((c,ci)=>{
    c.forEach((it,ri)=>{
      const cy=ca.top+L.rows[ri];
      ctx.strokeStyle=it.color;ctx.lineWidth=it.width;ctx.setLineDash([]);
      ctx.beginPath();ctx.moveTo(cx,cy);ctx.lineTo(cx+L.handle,cy);ctx.stroke();
      ctx.fillStyle='#000';ctx.textAlign='left';ctx.textBaseline='middle';
      ctx.fillText(it.text,cx+L.handle+L.handlePad,cy+1);
    });
    cx+=L.handle+L.handlePad+colW[ci]+L.colSpace;
  });
}

const probLegend={anchor:'right',dx:8,dy:6,height:42,rows:[17,36],fontSize:12.7,handle:27,handlePad:8,colSpace:22,pad:5,
  columns:[[0,1],[2,3],[4,5],[6,7]].map(c=>c.map(k=>({text:lineLabels[k],color:rgba(palette[k],0.85),width:2.2})))};

function probChart(id,solids,lows,dashFrom,title,padTop,xH,titleY){
  return new Chart(document.getElementById(id),{
    type:'line',
    data:{datasets:probDatasets(solids,lows,dashFrom)},
    options:{responsive:false,animation:false,devicePixelRatio:1,
      layout:{padding:{top:padTop,right:27,left:0,bottom:0}},
      plugins:{legend:{display:false},tooltip:{enabled:false},
        decor:{title,titleY,ylabel:'Prob',ylabelX:27,ylabelSize:13.5,roundDy:28,legend:probLegend}},
      scales:{
        x:{type:'linear',min:333,max:927,afterBuildTicks:s=>{s.ticks=xTickValues.map(v=>({value:v}));},
          ticks:{display:false},grid:{drawOnChartArea:false,drawTicks:true,tickLength:6,tickColor:'#222',lineWidth:1.3},
          border:{display:false},afterFit:s=>{s.height=xH;}},
        y:{type:'linear',min:0,max:1.15,afterBuildTicks:s=>{s.ticks=probTickValues.map(v=>({value:v}));},
          ticks:{font:{size:14},color:'#111',padding:6,callback:v=>Number(v).toFixed(2)},
          grid:{color:'#e4e4e4',lineWidth:1,tickLength:6,tickColor:'#222',tickWidth:1.3},
          border:{display:false},afterFit:s=>{s.width=92;}}
      }},
    plugins:[decor]
  });
}

probChart('c1',conlanSolid,conlanLow,conlanDashFrom,fighterA+chartTitleSuffix,52,22,31);
probChart('c2',walshSolid,walshLow,walshDashFrom,fighterB+chartTitleSuffix,39,14,19);

new Chart(document.getElementById('c3'),{
  type:'line',
  data:{datasets:[
    {label:'Truth '+fighterA+': '+finalTruthA,data:toXY(truthConlan),borderColor:'rgba(255,0,0,0.7)',borderWidth:2.6,pointRadius:0,fill:false,order:2},
    {label:'Truth '+fighterB+': '+finalTruthB,data:toXY(truthWalsh),borderColor:'rgba(0,0,255,0.7)',borderWidth:2.6,pointRadius:0,fill:false,order:1}
  ]},
  options:{responsive:false,animation:false,devicePixelRatio:1,
    layout:{padding:{top:47,right:27,left:0,bottom:0}},
    plugins:{legend:{display:false},tooltip:{enabled:false},
      decor:{ylabel:'Count',ylabelX:40,ylabelSize:15.5,roundDy:23,xlabel:'Fight time (seconds)',xlabelY:405,refLine:countRefLine,
        legend:{anchor:'left',dx:8,dy:7,height:49,rows:[20,42],fontSize:14.4,handle:32,handlePad:10,colSpace:0,pad:5,
          columns:[[{text:'Truth '+fighterA+': '+finalTruthA,color:'rgba(255,0,0,0.7)',width:2.6},
                    {text:'Truth '+fighterB+': '+finalTruthB,color:'rgba(0,0,255,0.7)',width:2.6}]]}}},
    scales:{
      x:{type:'linear',min:333,max:927,afterBuildTicks:s=>{s.ticks=xTickValues.map(v=>({value:v}));},
        ticks:{font:{size:14},color:'#111',padding:5,callback:v=>String(v)},
        grid:{drawOnChartArea:false,drawTicks:true,tickLength:6,tickColor:'#222',lineWidth:1.3},
        border:{display:false},afterFit:s=>{s.height=81;}},
      y:{type:'linear',min:-0.6,max:12.6,afterBuildTicks:s=>{s.ticks=countTickValues.map(v=>({value:v}));},
        ticks:{font:{size:14},color:'#111',padding:6,callback:v=>String(v)},
        grid:{color:'#e4e4e4',lineWidth:1,tickLength:6,tickColor:'#222',tickWidth:1.3},
        border:{display:false},afterFit:s=>{s.width=92;}}
    }},
  plugins:[decor]
});
</script>
</body></html>
